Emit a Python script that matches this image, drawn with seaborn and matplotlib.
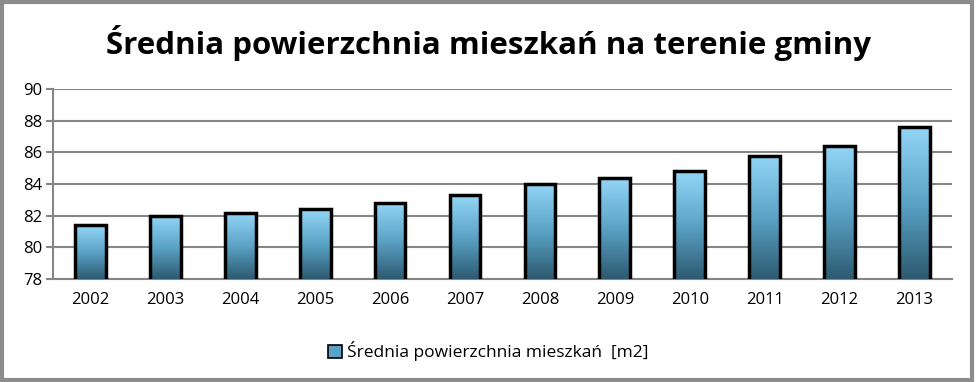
import matplotlib.pyplot as plt
import numpy as np
import pandas as pd
import seaborn as sns
from matplotlib.colors import LinearSegmentedColormap
from matplotlib.patches import Patch, Rectangle

years = ["2002", "2003", "2004", "2005", "2006", "2007",
         "2008", "2009", "2010", "2011", "2012", "2013"]
area_m2 = [81.4, 82.0, 82.2, 82.4, 82.8, 83.3, 84.0, 84.4, 84.8, 85.8, 86.4, 87.6]
y_ticks = [78, 80, 82, 84, 86, 88, 90]

TITLE = "Średnia powierzchnia mieszkań na terenie gminy"
LEGEND_LABEL = "Średnia powierzchnia mieszkań  [m2]"

GRID = "#868686"
grad = LinearSegmentedColormap.from_list("bar", ["#2d5a70", "#5ba3c6", "#94d6f7"])

sns.set_theme(style="white")
plt.rcParams["font.family"] = ["Open Sans", "DejaVu Sans"]
plt.rcParams["text.color"] = "black"

df = pd.DataFrame({"year": years, "area": area_m2})

fig = plt.figure(figsize=(9.76, 3.82), dpi=100)
ax = fig.add_axes([0.0543, 0.2696, 0.921, 0.4974])

sns.barplot(data=df, x="year", y="area", ax=ax, width=0.41,
            color="#5ba3c6", edgecolor="black", linewidth=2.5, zorder=3)

ax.set_ylim(78, 90)
ax.set_xlim(-0.5, len(years) - 0.5)

# vertical gradient fill inside each bar
gradient = np.linspace(0, 1, 256).reshape(-1, 1)
for bar in ax.patches:
    x0, w = bar.get_x(), bar.get_width()
    top = bar.get_y() + bar.get_height()
    im = ax.imshow(gradient, cmap=grad, aspect="auto", origin="lower",
                   extent=[x0, x0 + w, 78, top], zorder=3.5)
    im.set_clip_path(bar)
    bar.set_facecolor("none")
    bar.set_zorder(4)

ax.set_yticks(y_ticks)
ax.set_yticklabels([str(t) for t in y_ticks])
ax.yaxis.grid(True, color=GRID, linewidth=1.5, zorder=0)
ax.set_xlabel("")
ax.set_ylabel("")

for side in ["top", "right"]:
    ax.spines[side].set_visible(False)
for side in ["left", "bottom"]:
    ax.spines[side].set_color(GRID)
    ax.spines[side].set_linewidth(1.5)

ax.set_xticks(range(len(years)))
ax.set_xticklabels(years)
ax.set_xticks(np.arange(-0.5, len(years), 1), minor=True)
ax.tick_params(axis="x", which="major", length=0, labelsize=12, pad=9, labelcolor="black")
ax.tick_params(axis="x", which="minor", length=5, width=1.5, color=GRID, direction="out")
ax.tick_params(axis="y", length=5, width=1.5, color=GRID, direction="out",
               labelsize=12, pad=3, labelcolor="black", left=True)

fig.suptitle(TITLE, x=0.5, y=0.935, fontsize=22.5, fontweight="bold", color="black")

handle = Patch(facecolor="#5ba3c6", edgecolor="black", linewidth=1.2)
fig.legend([handle], [LEGEND_LABEL], loc="center", bbox_to_anchor=(0.5, 0.08),
           frameon=False, fontsize=12.5, handlelength=0.8, handleheight=0.8,
           handletextpad=0.3, labelcolor="black")

# outer frame of the chart area
fig.patches.append(Rectangle((0.002, 0.004), 0.994, 0.992, transform=fig.transFigure,
                             fill=False, edgecolor="#8c8c8c", linewidth=3))

fig.savefig("out.png", dpi=100)
